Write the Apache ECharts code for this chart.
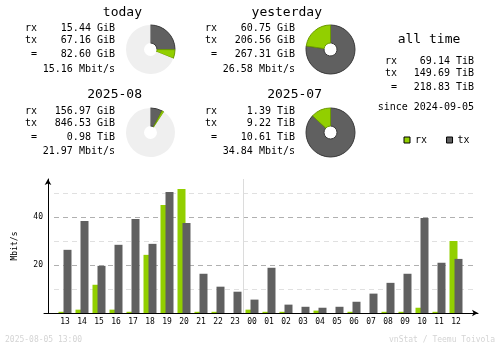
<!DOCTYPE html>
<html>
<head>
<meta charset="utf-8">
<script src="https://cdn.jsdelivr.net/npm/echarts@6/dist/echarts.min.js"></script>
<style>
html,body{margin:0;padding:0;background:#fff;}
#chart{width:500px;height:348px;}
</style>
</head>
<body>
<div id="chart"></div>
<script>
// ---- hourly graph data (Mbit/s) ----
const hours = ['13','14','15','16','17','18','19','20','21','22','23','00','01','02','03','04','05','06','07','08','09','10','11','12'];
const rxRate = [0.5, 1.4, 11.8, 1.4, 0.5, 24.3, 45.1, 51.8, 0.5, 0.5, 0, 1.4, 0.5, 0.5, 0, 1.0, 0, 0.5, 0, 0.5, 0.5, 2.2, 0.5, 30.1];
const txRate = [26.4, 38.5, 19.7, 28.5, 39.3, 28.9, 50.6, 37.6, 16.4, 11.0, 8.9, 5.6, 18.9, 3.5, 2.6, 2.2, 2.6, 4.7, 8.1, 12.6, 16.4, 39.7, 21.0, 22.6];
const yTickLabels = ['20', '40'];
const dayBoundaryIndex = 11; // slot where the new day ("00") starts

// ---- summary blocks ----
const blockTitles = ['today', 'yesterday', '2025-08', '2025-07'];
const blockRx = ['15.44 GiB', '60.75 GiB', '156.97 GiB', '1.39 TiB'];
const blockTx = ['67.16 GiB', '206.56 GiB', '846.53 GiB', '9.22 TiB'];
const blockTotal = ['82.60 GiB', '267.31 GiB', '0.98 TiB', '10.61 TiB'];
const blockRate = ['15.16 Mbit/s', '26.58 Mbit/s', '21.97 Mbit/s', '34.84 Mbit/s'];
// pie values (GiB): rx, tx, unfilled remainder
const pieRx = [15.44, 60.75, 156.97, 1423.4];
const pieTx = [67.16, 206.56, 846.53, 9441.3];
const pieRest = [184.71, 0, 9861.1, 0];

const allTimeTitle = 'all time';
const allTimeRx = '69.14 TiB';
const allTimeTx = '149.69 TiB';
const allTimeTotal = '218.83 TiB';
const sinceText = 'since 2024-09-05';
const footerLeft = '2025-08-05 13:00';
const footerRight = 'vnStat / Teemu Toivola';

const RX = '#92cf00', TX = '#606060';
const MONO = '"DejaVu Sans Mono", monospace';

// layout of the four blocks
const blockPos = [
  {lx: 25, vx: 115, tx: 142, ty: 12.2, rows: [28.8, 40.8, 54.8, 69.2], pc: [150.5, 49.5]},
  {lx: 205, vx: 295, tx: 322, ty: 12.2, rows: [28.8, 40.8, 54.8, 69.2], pc: [330.5, 49.5]},
  {lx: 25, vx: 115, tx: 142, ty: 94.8, rows: [111.5, 123.8, 137.5, 151.8], pc: [150.5, 132.5]},
  {lx: 205, vx: 295, tx: 322, ty: 94.8, rows: [111.5, 123.8, 137.5, 151.8], pc: [330.5, 132.5]}
];

const graphics = [];
function txt(x, y, s, align, size, color) {
  graphics.push({type: 'text', x: x, y: y, silent: true,
    style: {text: s, align: align, verticalAlign: 'middle', font: size + 'px ' + MONO, fill: color || '#000'}});
}
const pies = [];
blockTitles.forEach(function (t, i) {
  const p = blockPos[i];
  txt(p.tx, p.ty, t, 'right', 13);
  txt(p.lx, p.rows[0], 'rx', 'left', 10);
  txt(p.lx, p.rows[1], 'tx', 'left', 10);
  txt(p.lx, p.rows[2], ' =', 'left', 10);
  txt(p.vx, p.rows[0], blockRx[i], 'right', 10);
  txt(p.vx, p.rows[1], blockTx[i], 'right', 10);
  txt(p.vx, p.rows[2], blockTotal[i], 'right', 10);
  txt(p.vx, p.rows[3], blockRate[i], 'right', 10);
  pies.push({
    type: 'pie', center: p.pc, radius: [6.5, 24.5], startAngle: 90, clockwise: true,
    silent: true, animation: false, label: {show: false}, labelLine: {show: false},
    emphasis: {disabled: true}, avoidLabelOverlap: false,
    data: [
      {value: pieTx[i], itemStyle: {color: TX, borderColor: '#3a3a3a', borderWidth: 1}},
      {value: pieRx[i], itemStyle: {color: RX, borderColor: '#6c9a00', borderWidth: 1}},
      {value: pieRest[i], itemStyle: {color: '#efefef', borderWidth: 0}}
    ]
  });
});
// all time block
txt(429, 39.5, allTimeTitle, 'center', 13);
txt(385, 61.8, 'rx', 'left', 10);
txt(385, 73.8, 'tx', 'left', 10);
txt(385, 87.8, ' =', 'left', 10);
txt(474, 61.8, allTimeRx, 'right', 10);
txt(474, 73.8, allTimeTx, 'right', 10);
txt(474, 87.8, allTimeTotal, 'right', 10);
txt(474, 107.8, sinceText, 'right', 10);
// footer
txt(5, 339.7, footerLeft, 'left', 8, '#d4d4d4');
txt(495, 339.7, footerRight, 'right', 8, '#d4d4d4');

const TOP = 179, H = 134;
const option = {
  animation: false,
  backgroundColor: '#fff',
  graphic: graphics,
  legend: {
    data: ['rx', 'tx'], left: 398.5, top: 130, icon: 'rect', itemWidth: 6, itemHeight: 6, itemGap: 19,
    itemStyle: {borderColor: '#000', borderWidth: 1},
    textStyle: {fontFamily: MONO, fontSize: 10, color: '#000'}, selectedMode: false
  },
  grid: [
    {left: 56.5, width: 408, top: TOP, height: H},
    {left: 54, width: 419, top: TOP, height: H},
    {left: 44, width: 434, top: TOP, height: H}
  ],
  xAxis: [
    {type: 'category', gridIndex: 0, data: hours, boundaryGap: true,
      axisLine: {show: false}, axisTick: {show: false},
      axisLabel: {fontFamily: MONO, fontSize: 8, color: '#000', margin: 5, interval: 0},
      splitLine: {show: false}},
    {type: 'value', gridIndex: 1, min: 0, max: 1, show: false},
    {type: 'value', gridIndex: 2, min: 0, max: 1,
      axisLine: {show: true, symbol: ['none', 'arrow'], symbolSize: [5, 6], lineStyle: {color: '#000', width: 1}},
      axisTick: {show: false}, axisLabel: {show: false}, splitLine: {show: false}},
    // day separator: value axis over the same slots as the categories
    {type: 'value', gridIndex: 0, min: 0, max: hours.length, interval: dayBoundaryIndex,
      axisLine: {show: false}, axisTick: {show: false}, axisLabel: {show: false},
      splitLine: {show: true, showMinLine: false, showMaxLine: false,
        lineStyle: {width: 1, color: ['#dcdcdc', 'rgba(0,0,0,0)', 'rgba(0,0,0,0)', 'rgba(0,0,0,0)']}}}
  ],
  yAxis: [
    {type: 'value', gridIndex: 0, min: 0, max: 56, show: false},
    {type: 'value', gridIndex: 1, min: 0, max: 56, interval: 10,
      axisLine: {show: false}, axisTick: {show: false}, axisLabel: {show: false},
      splitLine: {show: true, lineStyle: {type: [5, 4], width: 1,
        color: ['rgba(0,0,0,0)', '#e0e0e0', '#b0b0b0', '#e0e0e0', '#b0b0b0', '#e0e0e0', 'rgba(0,0,0,0)']}}},
    {type: 'value', gridIndex: 2, min: 0, max: 56, interval: 10, offset: -4,
      axisLine: {show: true, symbol: ['none', 'arrow'], symbolSize: [5, 6], lineStyle: {color: '#000', width: 1}},
      axisTick: {show: false}, splitLine: {show: false},
      axisLabel: {fontFamily: MONO, fontSize: 8, color: '#000', margin: 5,
        formatter: function (v) { const s = String(v); return yTickLabels.indexOf(s) >= 0 ? s : ''; }},
      name: 'Mbit/s', nameLocation: 'middle', nameRotate: 90, nameGap: 29,
      nameTextStyle: {fontFamily: MONO, fontSize: 8, color: '#000'}}
  ],
  series: [
    {name: 'rx', type: 'bar', xAxisIndex: 0, yAxisIndex: 0, data: rxRate, barWidth: 8, barGap: '-37.5%',
      itemStyle: {color: RX}, silent: true},
    {name: 'tx', type: 'bar', xAxisIndex: 0, yAxisIndex: 0, data: txRate, barWidth: 8, barGap: '-37.5%',
      itemStyle: {color: TX}, silent: true}
  ].concat(pies)
};
const chart = echarts.init(document.getElementById('chart'), null, {renderer: 'canvas'});
chart.setOption(option);
</script>
</body>
</html>
